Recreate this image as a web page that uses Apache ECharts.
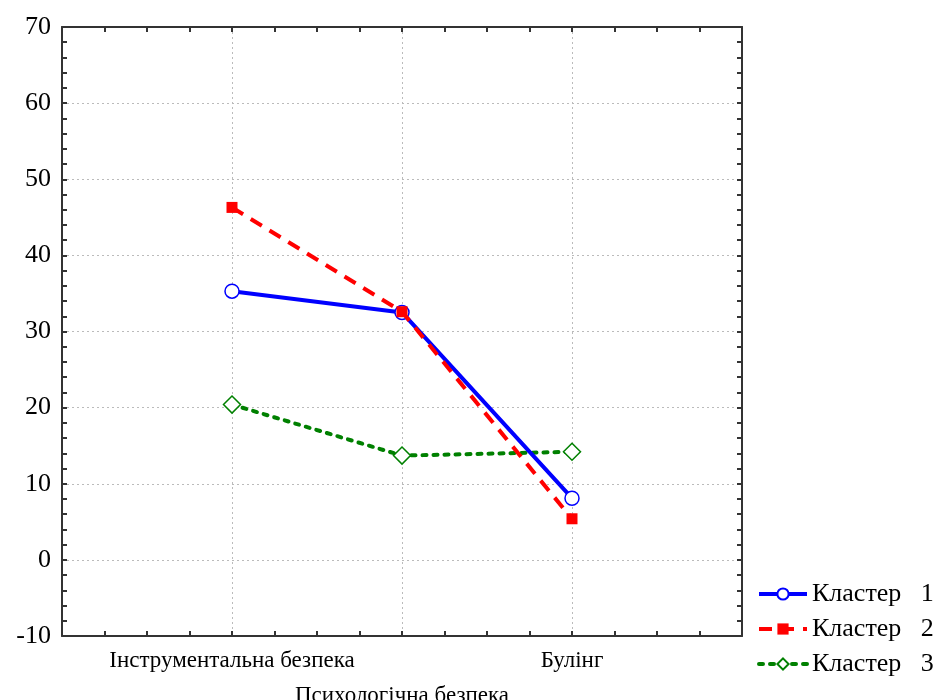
<!DOCTYPE html>
<html>
<head>
<meta charset="utf-8">
<script src="https://cdn.jsdelivr.net/npm/echarts@6/dist/echarts.min.js"></script>
<style>
  html, body { margin: 0; padding: 0; background: #fff; }
  #chart { width: 940px; height: 700px; }
</style>
</head>
<body>
<div id="chart"></div>
<script>
// Category labels placed at x = 1, 2, 3 on the horizontal scale
const categories = ['Інструментальна безпека', '', 'Булінг'];
const categoryPositions = [1, 2, 3];
const axisName = 'Психологічна безпека';

// Mean values per cluster
const cluster1 = [35.3, 32.5, 8.1];
const cluster2 = [46.3, 32.6, 5.4];
const cluster3 = [20.4, 13.7, 14.2];
const seriesNames = ['Кластер   1', 'Кластер   2', 'Кластер   3'];

const yMin = -10, yMax = 70, yStep = 10;

const pairs = vals => vals.map((v, i) => [categoryPositions[i], v]);

const serif = '"Liberation Serif", "Times New Roman", serif';
const frameColor = '#333';
const gridLine = { show: true, lineStyle: { color: '#bbb', type: [2, 3], width: 1 } };

const chart = echarts.init(document.getElementById('chart'), null, { renderer: 'canvas' });

const option = {
  animation: false,
  backgroundColor: '#fff',
  grid: { left: 62, right: 198, top: 27, bottom: 64, containLabel: false, outerBoundsMode: 'none' },
  legend: {
    orient: 'vertical',
    left: 752,
    top: 576,
    itemWidth: 48,
    itemHeight: 14,
    itemGap: 9,
    lineStyle: { width: 4 },
    textStyle: { fontFamily: serif, fontSize: 26, color: '#000' },
    data: seriesNames
  },
  xAxis: [
    {
      type: 'value', min: 0, max: 4, interval: 1,
      axisLine: { show: true, onZero: false, lineStyle: { color: frameColor, width: 2 } },
      axisTick: { show: true, inside: true, length: 5, lineStyle: { color: frameColor, width: 2 } },
      minorTick: { show: true, splitNumber: 4, length: 5, lineStyle: { color: frameColor, width: 2 } },
      splitLine: gridLine,
      axisLabel: {
        fontFamily: serif, fontSize: 23, color: '#000', margin: 13,
        formatter: v => {
          const i = categoryPositions.indexOf(v);
          return i >= 0 ? categories[i] : '';
        }
      },
      name: axisName,
      nameLocation: 'center',
      nameGap: 48,
      nameTextStyle: { fontFamily: serif, fontSize: 23, color: '#000' }
    },
    {
      type: 'value', min: 0, max: 4, interval: 1, position: 'top',
      axisLine: { show: true, onZero: false, lineStyle: { color: frameColor, width: 2 } },
      axisTick: { show: true, inside: true, length: 5, lineStyle: { color: frameColor, width: 2 } },
      minorTick: { show: true, splitNumber: 4, length: 5, lineStyle: { color: frameColor, width: 2 } },
      splitLine: { show: false },
      axisLabel: { show: false }
    }
  ],
  yAxis: [
    {
      type: 'value', min: yMin, max: yMax, interval: yStep,
      axisLine: { show: true, onZero: false, lineStyle: { color: frameColor, width: 2 } },
      axisTick: { show: true, inside: true, length: 5, lineStyle: { color: frameColor, width: 2 } },
      minorTick: { show: true, splitNumber: 5, length: 5, lineStyle: { color: frameColor, width: 2 } },
      splitLine: gridLine,
      axisLabel: { fontFamily: serif, fontSize: 26, color: '#000', margin: 11 }
    },
    {
      type: 'value', min: yMin, max: yMax, interval: yStep, position: 'right',
      axisLine: { show: true, onZero: false, lineStyle: { color: frameColor, width: 2 } },
      axisTick: { show: true, inside: true, length: 5, lineStyle: { color: frameColor, width: 2 } },
      minorTick: { show: true, splitNumber: 5, length: 5, lineStyle: { color: frameColor, width: 2 } },
      splitLine: { show: false },
      axisLabel: { show: false }
    }
  ],
  series: [
    {
      name: seriesNames[0], type: 'line', data: pairs(cluster1),
      lineStyle: { color: '#0000ff', width: 4, type: 'solid' },
      symbol: 'circle', symbolSize: 14,
      itemStyle: { color: '#fff', borderColor: '#0000ff', borderWidth: 1.5 },
      z: 3
    },
    {
      name: seriesNames[1], type: 'line', data: pairs(cluster2),
      lineStyle: { color: '#ff0000', width: 4, type: [13, 9] },
      symbol: 'rect', symbolSize: 11,
      itemStyle: { color: '#ff0000', borderColor: '#ff0000', borderWidth: 0 },
      z: 4
    },
    {
      name: seriesNames[2], type: 'line', data: pairs(cluster3),
      lineStyle: { color: '#008000', width: 4, type: [4, 7], cap: 'round' },
      symbol: 'diamond', symbolSize: 17,
      itemStyle: { color: '#fff', borderColor: '#008000', borderWidth: 1.5 },
      z: 2
    }
  ]
};

chart.setOption(option);
</script>
</body>
</html>
